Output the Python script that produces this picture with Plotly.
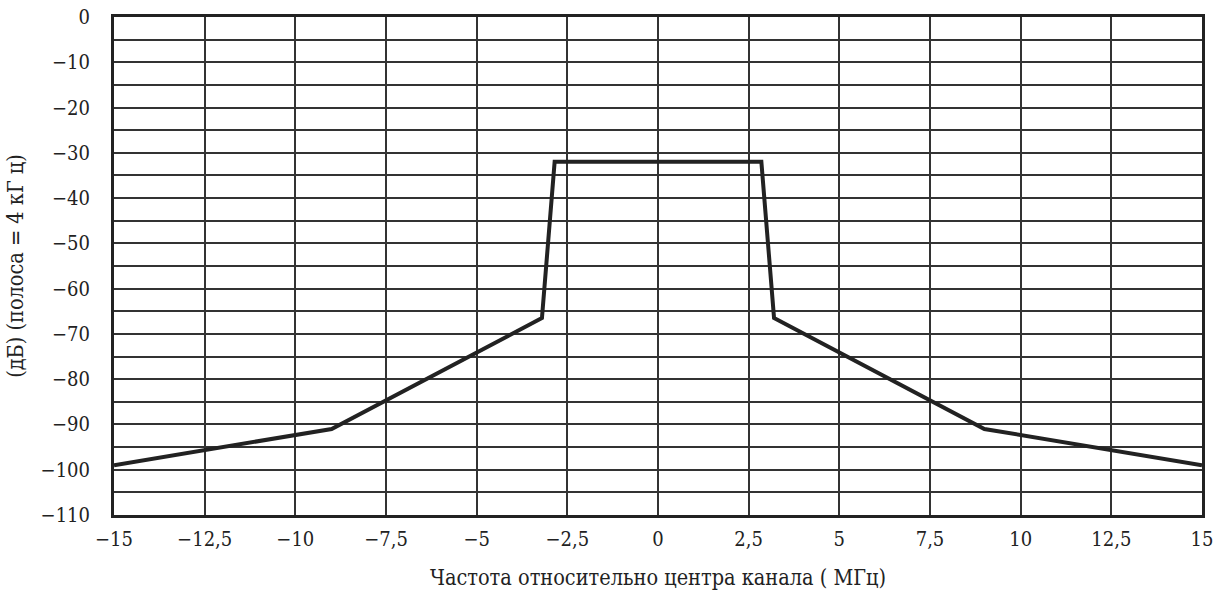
import plotly.graph_objects as go

freq_mhz = [-15, -9, -3.2, -2.85, 2.85, 3.2, 9, 15]
level_db = [-99, -91, -66.5, -32, -32, -66.5, -91, -99]

x_tickvals = [-15, -12.5, -10, -7.5, -5, -2.5, 0, 2.5, 5, 7.5, 10, 12.5, 15]
x_ticktext = ["−15", "−12,5", "−10", "−7,5", "−5", "−2,5", "0", "2,5", "5", "7,5", "10", "12,5", "15"]
y_tickvals = [0, -10, -20, -30, -40, -50, -60, -70, -80, -90, -100, -110]
y_ticktext = ["0", "−10", "−20", "−30", "−40", "−50", "−60", "−70", "−80", "−90", "−100", "−110"]

x_title = "Частота относительно центра канала ( МГц)"
y_title = "(дБ) (полоса = 4 кГ ц)"

grid_color = "#333333"
font_family = "DejaVu Serif Condensed, DejaVu Serif, serif"
txt_color = "#222222"

fig = go.Figure()
fig.add_trace(go.Scatter(
    x=freq_mhz, y=level_db, mode="lines",
    line=dict(color="#222222", width=4),
    showlegend=False, hoverinfo="skip",
))

fig.update_layout(
    width=1213, height=591,
    margin=dict(l=114, r=11, t=17, b=76),
    paper_bgcolor="white", plot_bgcolor="white",
    font=dict(family=font_family, size=20, color=txt_color),
)
fig.update_xaxes(
    range=[-15, 15], tickvals=x_tickvals, ticktext=x_ticktext,
    showgrid=True, gridcolor=grid_color, gridwidth=1.5,
    showline=True, linecolor="#222222", linewidth=3, mirror=True,
    zeroline=False, ticks="outside", ticklen=4, tickcolor="rgba(0,0,0,0)",
    automargin=False, ticklabeloverflow="allow",
    tickfont=dict(family=font_family, size=20, color=txt_color),
    title=dict(text=x_title, font=dict(family=font_family, size=21.5, color=txt_color), standoff=20),
)
fig.update_yaxes(
    range=[-110, 0], tickvals=y_tickvals, ticktext=y_ticktext,
    showgrid=False,
    showline=True, linecolor="#222222", linewidth=3, mirror=True,
    zeroline=False, ticks="outside", ticklen=17, tickcolor="rgba(0,0,0,0)",
    automargin=False, ticklabeloverflow="allow",
    tickfont=dict(family=font_family, size=20, color=txt_color),
    title=dict(text=y_title, font=dict(family=font_family, size=21.5, color=txt_color), standoff=12),
)
fig.update_yaxes(
    minor=dict(dtick=5, tick0=0, showgrid=True, gridcolor=grid_color, gridwidth=1.5, ticks=""),
)

fig.write_html("out.html", config={"displayModeBar": False},
               post_script="document.body.style.margin='0';")
